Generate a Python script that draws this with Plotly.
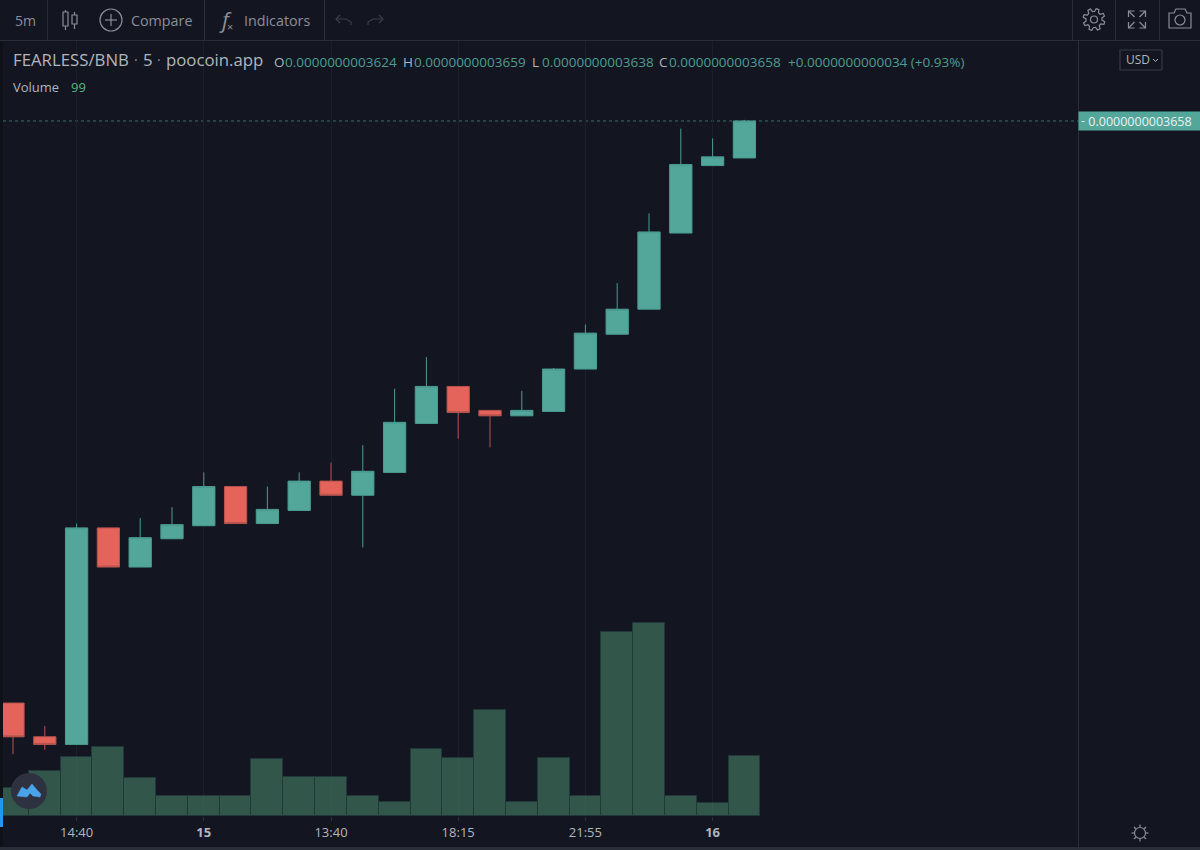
import numpy as np
import plotly.graph_objects as go

W, H = 1200, 850

# prices are in units of 1e-13
bar_idx = list(range(24))
opens = [3123, 3092, 3085, 3284, 3248, 3274, 3286, 3322, 3288, 3300, 3327, 3314,
         3335, 3380, 3414, 3392, 3387, 3391, 3430, 3462, 3485, 3555, 3617, 3624]
highs = [3123, 3102, 3288, 3284, 3293, 3303, 3335, 3322, 3322, 3335, 3344, 3360,
         3412, 3441, 3414, 3392, 3410, 3431, 3471, 3509, 3573, 3651, 3642, 3659]
lows = [3076, 3080, 3085, 3248, 3248, 3274, 3286, 3288, 3288, 3300, 3314, 3266,
        3335, 3380, 3366, 3358, 3387, 3391, 3430, 3462, 3485, 3555, 3617, 3624]
closes = [3092, 3085, 3284, 3248, 3275, 3287, 3322, 3288, 3301, 3327, 3314, 3336,
          3381, 3414, 3390, 3387, 3392, 3430, 3463, 3485, 3556, 3618, 3625, 3658]
volumes = [46, 74, 97, 114, 63, 33, 33, 33, 94, 64, 64, 33,
           23, 111, 96, 175, 23, 96, 33, 304, 318, 33, 21, 99]

tick_idx = [2, 6, 10, 14, 18, 22]
tick_labels = ["14:40", "<b>15</b>", "13:40", "18:15", "21:55", "<b>16</b>"]

BG = "#131620"
LINE = "#2a2e39"
TEAL = "#53a69a"
RED = "#e4635a"
GREY = "#8b8e98"
FONT = "Open Sans"


def fx(x):
    return x / W


def fy(y):
    return 1 - y / H


def pth(pts, close=False):
    s = "M " + " L ".join(f"{fx(x):.5f},{fy(y):.5f}" for x, y in pts)
    return s + (" Z" if close else "")


shapes = []


def line(pts, color=GREY, width=1.2, fill=None, close=False):
    shapes.append(dict(type="path", xref="paper", yref="paper", path=pth(pts, close),
                       line=dict(color=color, width=width),
                       fillcolor=fill if fill else "rgba(0,0,0,0)", layer="above"))


def rect(x0, y0, x1, y1, color=GREY, width=1.2, fill=None):
    line([(x0, y0), (x1, y0), (x1, y1), (x0, y1)], color, width, fill, True)


def circle(cx, cy, r, color=GREY, width=1.2, fill=None):
    shapes.append(dict(type="circle", xref="paper", yref="paper",
                       x0=fx(cx - r), x1=fx(cx + r), y0=fy(cy + r), y1=fy(cy - r),
                       line=dict(color=color, width=width),
                       fillcolor=fill if fill else "rgba(0,0,0,0)", layer="above"))


annos = []


def txt(x, y, s, color=GREY, size=14, anchor="left"):
    annos.append(dict(xref="paper", yref="paper", x=fx(x), y=fy(y), text=s, showarrow=False,
                      xanchor=anchor, yanchor="middle", borderpad=0,
                      font=dict(family=FONT, size=size, color=color)))


# panel lines
line([(0, 40.5), (W, 40.5)], LINE, 1)
line([(1078.5, 41), (1078.5, 847)], LINE, 1)
for sx in [47, 204, 324, 1072, 1115, 1159]:
    line([(sx + 0.5, 0), (sx + 0.5, 40)], LINE, 1)
rect(0, 847, W, H, LINE, 0, LINE)
rect(0, 41, 3, 847, "#0f1119", 0, "#0f1119")
rect(0, 798, 3, 827, "#2196f3", 0, "#2196f3")

# toolbar text
txt(14, 21, "5m", GREY, 14)
txt(129.5, 21, "Compare", GREY, 14.3)
txt(243, 21, "Indicators", GREY, 14.3)
txt(218, 19, "<i>f</i>", GREY, 22)
txt(226, 27, "×", GREY, 11)

# candle icon
line([(65.5, 10), (65.5, 30)])
rect(63, 12, 68, 26, GREY, 1.2, BG)
line([(74.5, 12), (74.5, 29)])
rect(72, 15, 77, 24, GREY, 1.2, BG)

# compare icon
circle(111, 20, 11)
line([(105, 20), (117, 20)])
line([(111, 14), (111, 26)])

# undo, redo
line([(340, 15), (336, 19), (340, 23)], "#3a3e4a")
line([(336, 19), (346, 19), (351, 22), (351, 25)], "#3a3e4a")
line([(379, 15), (383, 19), (379, 23)], "#3a3e4a")
line([(383, 19), (373, 19), (368, 22), (368, 25)], "#3a3e4a")

# gear
a = np.linspace(0, 2 * np.pi, 49)
r = np.where(np.mod(np.arange(49), 6) < 3, 11, 8)
line(list(zip(1094 + r * np.cos(a + 0.2), 19.5 + r * np.sin(a + 0.2))), GREY, 1.2)
circle(1094, 19.5, 3.5)

# fullscreen
for sx, sy in [(-1, -1), (1, -1), (-1, 1), (1, 1)]:
    cx, cy = 1137 + sx * 8.5, 19.5 + sy * 8.5
    line([(cx, cy), (cx - sx * 6, cy - sy * 6)])
    line([(cx - sx * 6, cy), (cx, cy), (cx, cy - sy * 6)])

# camera
line([(1169, 13), (1174, 13), (1176, 9), (1185, 9), (1187, 13), (1191, 13),
      (1191, 28), (1169, 28)], GREY, 1.2, None, True)
circle(1180, 20, 5)

# USD button
rect(1120, 50, 1162, 70, "#363a45", 1.2)
txt(1125, 60, "USD", "#b2b5be", 12)
line([(1153, 59), (1155.5, 61.5), (1158, 59)], "#b2b5be", 1)

# sun
circle(1140, 833, 5.5, GREY, 1.2)
for ang in np.arange(0, 2 * np.pi, np.pi / 4):
    line([(1140 + 6 * np.cos(ang), 833 + 6 * np.sin(ang)),
          (1140 + 8.5 * np.cos(ang), 833 + 8.5 * np.sin(ang))], GREY, 1.2)

# logo
circle(29, 791, 18, "#2e3240", 0, "#2e3240")
line([(17, 796), (22, 787), (27, 790), (32, 784), (37, 790), (41, 794), (40, 797),
      (33, 796), (30, 793), (27, 797)], "#4aa3e8", 0.5, "#4aa3e8", True)

# legend
LBL = "#b2b5be"
VAL = "#4f9c90"
txt(12, 60, "FEARLESS/BNB", LBL, 16.8)
txt(133, 60, "·", GREY, 14)
txt(142, 60, "5", LBL, 16.8)
txt(156, 60, "·", GREY, 14)
txt(165, 60, "poocoin.app", LBL, 16.8)
for lx, vx, k, v in [(273, 284, "O", "0.0000000003624"), (402, 413, "H", "0.0000000003659"),
                     (531, 541, "L", "0.0000000003638"), (658, 668, "C", "0.0000000003658")]:
    txt(lx, 61.5, k, LBL, 13.5)
    txt(vx, 61.5, v, VAL, 13.5)
txt(787, 61.5, "+0.0000000000034 (+0.93%)", VAL, 13.5)
txt(12, 87, "Volume", LBL, 13)
txt(70, 87, "99", "#53b987", 13)

# last price line and label
shapes.append(dict(type="line", xref="paper", yref="y2", x0=fx(3), x1=fx(1078),
                   y0=closes[-1], y1=closes[-1], layer="below",
                   line=dict(color="#37706b", width=1, dash="dot")))
annos.append(dict(xref="paper", yref="y2", x=fx(1078), y=closes[-1], text="0.0000000003658",
                  showarrow=False, xanchor="left", yanchor="middle", width=122, height=18,
                  align="center", bgcolor=TEAL, borderpad=0,
                  font=dict(family=FONT, size=12.5, color="#e9f2f0")))
annos.append(dict(xref="paper", yref="y2", x=fx(1079), y=closes[-1], text="-",
                  showarrow=False, xanchor="left", yanchor="middle",
                  font=dict(family=FONT, size=12, color="#e9f2f0")))

fig = go.Figure()

fig.add_trace(go.Bar(
    x=bar_idx, y=volumes, yaxis="y",
    marker=dict(color="rgba(83,150,115,0.5)", line=dict(color="#21383a", width=1)),
    hoverinfo="skip",
))

fig.add_trace(go.Candlestick(
    x=bar_idx, open=opens, high=highs, low=lows, close=closes, yaxis="y2",
    increasing=dict(fillcolor=TEAL, line=dict(color="#4c9c92", width=1)),
    decreasing=dict(fillcolor=RED, line=dict(color="#b5544f", width=1)),
    whiskerwidth=0,
    hoverinfo="skip",
))

fig.update_layout(
    width=W, height=H,
    margin=dict(l=0, r=0, t=0, b=0, autoexpand=False),
    paper_bgcolor=BG, plot_bgcolor=BG,
    showlegend=False,
    bargap=0, boxgap=0,
    font=dict(family=FONT, color=LBL),
    xaxis=dict(
        domain=[fx(3), fx(1078)], range=[-0.314, 33.49],
        rangeslider=dict(visible=False),
        tickmode="array", tickvals=tick_idx, ticktext=tick_labels,
        tickfont=dict(family=FONT, size=13, color=LBL),
        ticks="outside", ticklen=4, tickcolor=LINE,
        showgrid=True, gridcolor="#1b1f2b", gridwidth=1, zeroline=False, showline=False,
    ),
    yaxis=dict(domain=[1 - 816 / H, 1 - 41 / H], range=[0, 1279], visible=False),
    yaxis2=dict(overlaying="y", side="right", range=[3019.2, 3731.5], visible=False),
    shapes=shapes,
    annotations=annos,
)

fig.write_html("out.html", config={"displayModeBar": False},
               post_script="document.body.style.margin='0';window.dispatchEvent(new Event('resize'));")
